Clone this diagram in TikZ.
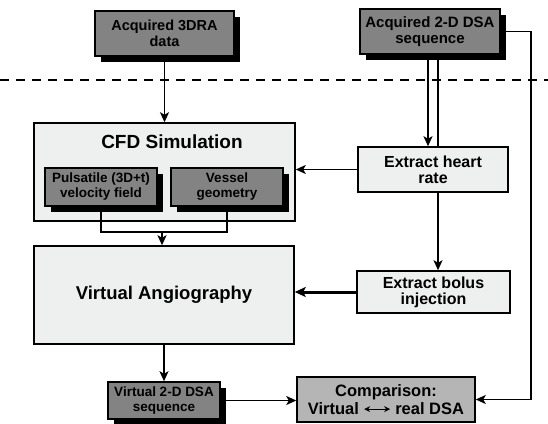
\documentclass[tikz,border=0pt]{standalone}
\usepackage{fontspec}
\setmainfont{Liberation Sans}
\usetikzlibrary{arrows.meta,shadows}
\definecolor{darkbox}{HTML}{838383}
\definecolor{lightbox}{HTML}{EEF0EF}
\definecolor{cmpbox}{HTML}{B5B5B5}
\tikzset{
  base/.style={draw=black, line width=1.5pt, align=center, inner sep=0pt, font=\bfseries},
  darkshadowbox/.style={base, fill=darkbox,
    drop shadow={shadow xshift=6pt, shadow yshift=-6pt, fill=black, opacity=1}},
  lightbox/.style={base, fill=lightbox},
  cmpstyle/.style={base, fill=cmpbox},
  conn/.style={line width=1.6pt, -{Stealth[length=10pt,width=9pt,inset=2.5pt]}},
  plain/.style={line width=1.6pt},
  thickconn/.style={line width=3pt, -{Stealth[length=11pt,width=10pt,inset=2.5pt]}},
}
\begin{document}
\begin{tikzpicture}[x=1pt,y=-1pt]
\useasboundingbox (0,0) rectangle (548,423);
% top boxes
\node[darkshadowbox, minimum width=139pt, minimum height=45pt,
  font=\bfseries\fontsize{14.5}{16}\selectfont] (dra) at (164.5,33.5) {Acquired 3DRA\\data};
\node[darkshadowbox, minimum width=140pt, minimum height=45pt,
  font=\bfseries\fontsize{15}{16}\selectfont] (dsa) at (430,31.5) {Acquired 2-D DSA\\sequence};
% dashed separator
\coordinate (dl) at (0,80);
\coordinate (dr) at (548,80);
\draw[line width=1.5pt, dash pattern=on 9pt off 7pt] (dl) -- (dr);
% CFD
\node[lightbox, minimum width=261pt, minimum height=98pt] (cfd) at (164.5,172) {};
\node[font=\bfseries\fontsize{19}{21}\selectfont] (cfdt) at (172,142) {CFD Simulation};
\node[darkshadowbox, minimum width=112pt, minimum height=38pt,
  font=\bfseries\fontsize{13.5}{15}\selectfont] (puls) at (101,187) {Pulsatile (3D+t)\\velocity field};
\node[darkshadowbox, minimum width=112pt, minimum height=38pt,
  font=\bfseries\fontsize{13.5}{15}\selectfont] (ves) at (227,187) {Vessel\\geometry};
% right side
\node[lightbox, minimum width=150pt, minimum height=45pt,
  font=\bfseries\fontsize{16}{16}\selectfont] (heart) at (433,169.5) {Extract heart\\rate};
\node[lightbox, minimum width=260pt, minimum height=98pt,
  font=\bfseries\fontsize{18.5}{20}\selectfont] (va) at (164,295) {Virtual Angiography};
\node[lightbox, minimum width=153pt, minimum height=42pt,
  font=\bfseries\fontsize{16}{16}\selectfont] (bolus) at (433.5,292) {Extract bolus\\injection};
\node[darkshadowbox, minimum width=112pt, minimum height=37pt,
  font=\bfseries\fontsize{13.5}{15}\selectfont] (vdsa) at (164,400.5) {Virtual 2-D DSA\\sequence};
\node[cmpstyle, minimum width=178pt, minimum height=45pt,
  font=\bfseries\fontsize{16.5}{17.5}\selectfont] (cmp) at (386,399.5)
  {Comparison:\\Virtual \tikz[baseline=-5pt]\draw[line width=1.2pt,{Stealth[length=6pt,width=6pt]}-{Stealth[length=6pt,width=6pt]}] (0pt,0pt) -- (26pt,0pt); real DSA};
% connectors
\coordinate (a1) at (428,0);
\coordinate (a2) at (438,0);
\coordinate (rr) at (531,200);
\coordinate (j) at (162,232);
\draw[conn] (dra.south) -- (cfd.north -| dra.south);
\draw[conn] (dsa.south -| a1) -- (heart.north -| a1);
\draw[plain] (dsa.south -| a2) -- (heart.north -| a2);
\draw[conn] (heart.south -| a2) -- (bolus.north -| a2);
\draw[conn] (dsa.east) -| (rr) |- (cmp.east);
\draw[conn] (heart.west) -- (cfd.east |- heart.west);
\draw[plain] (puls.south) |- (j) -| (ves.south);
\draw[conn] (j) -- (va.north -| j);
\draw[thickconn] (bolus.west) -- (va.east |- bolus.west);
\draw[conn] (va.south -| vdsa.north) -- (vdsa.north);
\draw[conn] (vdsa.east) -- (cmp.west |- vdsa.east);
\end{tikzpicture}
\end{document}
